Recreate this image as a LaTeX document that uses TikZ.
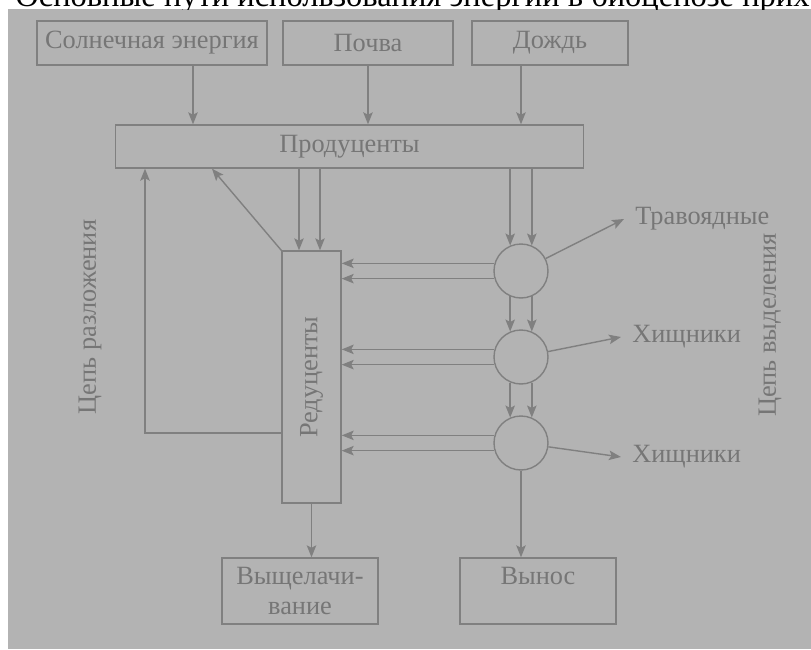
\documentclass[tikz,border=0pt]{standalone}
\usepackage{fontspec}
\setmainfont{Liberation Serif}
\usetikzlibrary{arrows.meta}
\definecolor{fon}{RGB}{179,179,179}
\definecolor{linia}{RGB}{128,128,128}
\definecolor{tekst}{RGB}{118,118,118}

\begin{document}
\begin{tikzpicture}[x=0.02cm,y=-0.02cm,font=\fontsize{15}{17}\selectfont,
	box/.style={draw=linia,line width=0.8pt,text=tekst,inner sep=0pt},
	krug/.style={circle,draw=linia,line width=0.8pt,minimum size=1.08cm,inner sep=0pt},
	lbl/.style={text=tekst,inner sep=0.22cm,anchor=west},
	strel/.style={draw=linia,line width=0.8pt,-{Stealth[length=0.24cm,width=0.19cm,inset=0.05cm]}}]
	\useasboundingbox (0,0) rectangle (811,649);
	\fill[fon] (8,9) rectangle (811,649); %fon
	\begin{scope}
		\clip (0,0) rectangle (811,9);
		\node[anchor=base west,inner sep=0pt,font=\fontsize{18.5}{22}\selectfont] (cap) at (15,7) {Основные пути использования энергии в биоценозе прих};
	\end{scope}
	% verhnie bloki
	\node[box,minimum width=4.6cm,minimum height=0.88cm] (sol) at (152,43) {Солнечная энергия};
	\node[box,minimum width=3.4cm,minimum height=0.88cm] (pochva) at (368,43) {Почва};
	\node[box,minimum width=3.12cm,minimum height=0.88cm] (dozhd) at (550,43) {Дождь};
	\node[box,minimum width=9.36cm,minimum height=0.86cm] (prod) at (349.5,146.5) {Продуценты};
	\node[box,minimum width=1.18cm,minimum height=5.04cm] (red) at (311.5,377) {};
	\node[rotate=90,text=tekst] (redt) at (red.center) {Редуценты};
	% krugi
	\node[krug] (c1) at (521,271) {};
	\node[krug] (c2) at (521,357) {};
	\node[krug] (c3) at (521,443) {};
	\node[lbl] (trav) at (624,219) {Травоядные};
	\node[lbl] (h1) at (621,337) {Хищники};
	\node[lbl] (h2) at (621,457) {Хищники};
	\node[rotate=90,text=tekst] (razl) at (90,317) {Цепь разложения};
	\node[rotate=90,text=tekst] (vyd) at (770,325) {Цепь выделения};
	% nizhnie bloki
	\node[box,minimum width=3.12cm,minimum height=1.32cm,align=center] (vysh) at (300,591) {Выщелачи-\\вание};
	\node[box,minimum width=3.12cm,minimum height=1.32cm,align=center] (vynos) at (538,591) {Вынос\\~};
	\coordinate (a1) at (193,0);
	\coordinate (r1) at (299,0);
	\coordinate (r2) at (320,0);
	\coordinate (d1) at (212,0);
	\coordinate (p1) at (145,0);
	\draw[strel] (sol.south -| a1) -- (prod.north -| a1);
	\draw[strel] (pochva.south) -- (prod.north -| pochva.south);
	\draw[strel] (dozhd.south -| c1) -- (prod.north -| c1);
	\draw[strel] (prod.south -| r1) -- (red.north -| r1);
	\draw[strel] (prod.south -| r2) -- (red.north -| r2);
	\draw[strel] (prod.south -| c1.113) -- (c1.113);
	\draw[strel] (prod.south -| c1.67) -- (c1.67);
	\draw[strel] (c1.247) -- (c2.113);
	\draw[strel] (c1.293) -- (c2.67);
	\draw[strel] (c2.247) -- (c3.113);
	\draw[strel] (c2.293) -- (c3.67);
	\foreach \c in {c1,c2,c3} {
		\draw[strel] (\c.164) -- (\c.164 -| red.east);
		\draw[strel] (\c.196) -- (\c.196 -| red.east);
	}
	\draw[strel] (c1) -- (trav.west);
	\draw[strel] (c2) -- (h1.west);
	\draw[strel] (c3) -- (h2.west);
	\draw[strel] (red.north west) -- (prod.south -| d1);
	\draw[strel] ([yshift=-1.12cm]red.west) -| (prod.south -| p1); %cep razlozheniya
	\draw[strel] (red.south) -- (red.south |- vysh.north);
	\draw[strel] (c3.south) -- (c3.south |- vynos.north);
\end{tikzpicture}
\end{document}
